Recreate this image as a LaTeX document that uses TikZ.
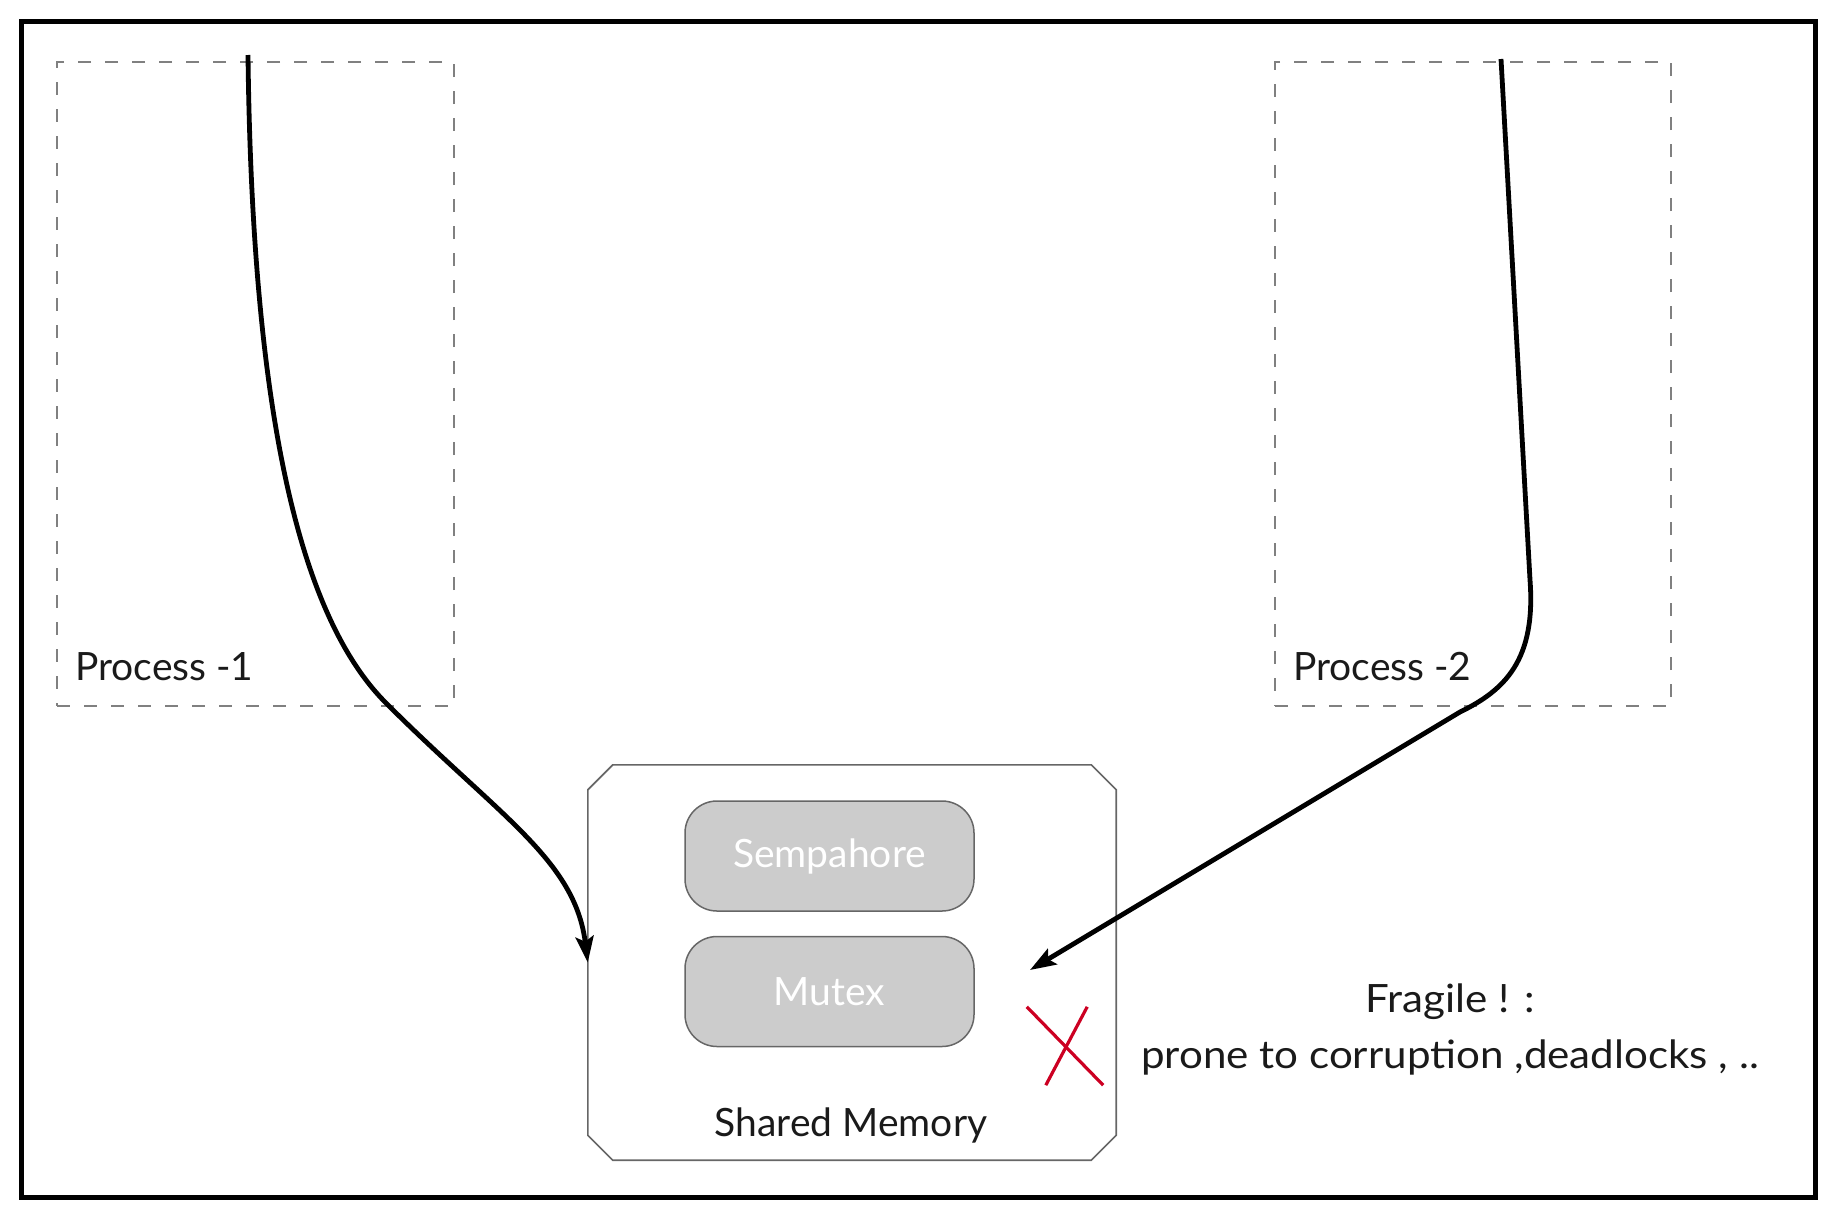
\documentclass[tikz,border=0pt]{standalone}
\usepackage{fontspec}
\setmainfont{Lato}
\usetikzlibrary{arrows.meta}
\definecolor{boxgray}{HTML}{CCCCCC}
\definecolor{edgegray}{HTML}{666666}
\definecolor{dashgray}{HTML}{808080}
\definecolor{xred}{HTML}{CC0022}
\definecolor{txt}{HTML}{1A1A1A}
\tikzset{
  procbox/.style={draw=dashgray, line width=1.8pt, dash pattern=on 13pt off 14pt, inner sep=0pt},
  lbl/.style={font=\fontsize{39}{46}\selectfont, text=txt, inner sep=0pt},
  widelbl/.style={lbl, font=\fontsize{39}{46}\selectfont\addfontfeature{FakeStretch=1.08}},
  lockbox/.style={draw=edgegray, fill=boxgray, line width=1.5pt, rounded corners=32pt,
     minimum width=289pt, minimum height=110pt, inner sep=0pt,
     font=\fontsize{39}{46}\selectfont, text=white},
  memedge/.style={draw=edgegray, line width=1.6pt},
  flow/.style={line width=4.8pt, -{Stealth[length=26pt,width=18pt,inset=5pt]}},
}
\begin{document}
\begin{tikzpicture}[x=1pt,y=-1pt]
\useasboundingbox (0,0) rectangle (1836,1216);
% outer frame
\draw[line width=5pt] (21,21) rectangle (1815,1197);
% process boxes
\node[procbox, minimum width=397pt, minimum height=644pt] (p1) at (255.5,384) {};
\node[procbox, minimum width=396pt, minimum height=644pt] (p2) at (1473,384) {};
\node[lbl, anchor=base west] (p1l) at (75,680) {Process -1};
\node[lbl, anchor=base west] (p2l) at (1293,680) {Process -2};
% shared memory (chamfered box)
\node[minimum width=528pt, minimum height=395pt, inner sep=0pt] (mem) at (852,962.5) {};
\draw[memedge] ([xshift=25pt]mem.north west) -- ([xshift=-25pt]mem.north east)
  -- ([yshift=-25pt]mem.north east) -- ([yshift=25pt]mem.south east)
  -- ([xshift=-25pt]mem.south east) -- ([xshift=25pt]mem.south west)
  -- ([yshift=25pt]mem.south west) -- ([yshift=-25pt]mem.north west) -- cycle;
\node[lockbox] (sem) at (829.5,856) {Sempahore};
\node[lockbox] (mut) at (829.5,991.5) {Mutex};
\node[lbl, anchor=base] (sml) at (851,1136) {Shared Memory};
% red X
\node[inner sep=0pt, minimum width=76pt, minimum height=78pt] (xmark) at (1065,1046) {};
\draw[xred, line width=3.2pt] (xmark.north west) -- (xmark.south east);
\draw[xred, line width=3.2pt] ([xshift=-16pt]xmark.north east) -- ([xshift=19pt]xmark.south west);
% fragile text
\node[widelbl, anchor=base] (frag1) at (1450,1012) {Fragile ! :};
\node[widelbl, anchor=base] (frag2) at (1450,1068) {prone to corruption ,deadlocks , ..};
% arrows
\coordinate (s1) at (248,55);
\coordinate (s2) at (1501,59);
\coordinate (e2) at (1030,970);
\draw[flow] (s1) .. controls (252,400) and (296,613) .. (386,703)
   .. controls (500,817) and (575,860) .. (mem.west);
\draw[flow] (s2) -- (1530,580) .. controls (1536,660) and (1505,690) .. (1460,712) -- (e2);
\end{tikzpicture}
\end{document}
